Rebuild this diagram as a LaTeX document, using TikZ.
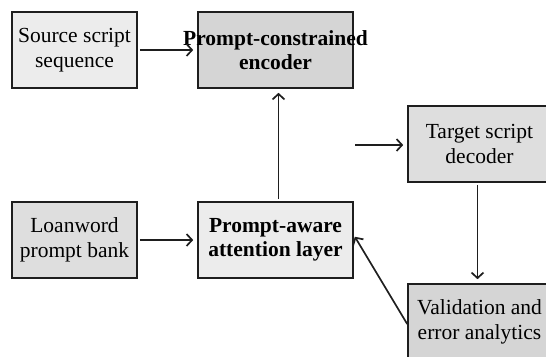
\documentclass[tikz,border=0pt]{standalone}
\usepackage{fontspec}
\setmainfont{Liberation Serif}
\usetikzlibrary{arrows.meta}
\definecolor{boxline}{HTML}{1E1E1E}
\definecolor{paleFill}{HTML}{ECECEC}
\definecolor{midFill}{HTML}{DEDEDE}
\definecolor{darkFill}{HTML}{D5D5D5}
\tikzset{
  stage/.style={draw=boxline, line width=1.6bp, align=center, inner sep=0pt,
    minimum height=76bp, font=\fontsize{21.5bp}{24.5bp}\selectfont},
  flow/.style={draw=boxline, line width=1.7bp,
    -{Straight Barb[length=5.5bp,width=12bp,line width=1.7bp]},
    shorten >=4bp, shorten <=2bp},
}
\begin{document}
\begin{tikzpicture}[x=1bp,y=-1bp]
  \useasboundingbox (0,0) rectangle (546,356);
  % stages of the pipeline
  \node[stage, fill=paleFill, minimum width=125bp] (src) at (74.5,50)
    {Source script\\sequence};
  \node[stage, fill=darkFill, minimum width=155bp, font=\fontsize{21.5bp}{24.5bp}\selectfont\bfseries] (enc) at (275.5,50)
    {\makebox[0pt]{Prompt-constrained}\\encoder};
  \node[stage, fill=midFill, minimum width=143bp] (tgt) at (479.5,144)
    {Target script\\decoder};
  \node[stage, fill=midFill, minimum width=125bp] (bank) at (74.5,240)
    {Loanword\\prompt bank};
  \node[stage, fill=paleFill, minimum width=155bp, font=\fontsize{21.5bp}{24.5bp}\selectfont\bfseries] (att) at (275.5,240)
    {Prompt-aware\\attention layer};
  \node[stage, fill=darkFill, minimum width=143bp] (val) at (479.5,322)
    {Validation and\\error analytics};
  \coordinate (feed) at (355,145);
  % connectors
  \draw[flow] (src) -- (enc);
  \draw[flow] ([xshift=3bp]att.north) -- ([xshift=3bp]enc.south);
  \draw[flow, shorten <=0bp] (feed) -- (tgt.west |- feed);
  \draw[flow] (bank) -- (att);
  \draw[flow] ([xshift=-2bp]tgt.south) -- ([xshift=-2bp]val.north);
  \draw[flow, shorten >=2bp, shorten <=0bp] ([yshift=-2bp]val.west) -- ([yshift=5bp]att.east);
\end{tikzpicture}
\end{document}
